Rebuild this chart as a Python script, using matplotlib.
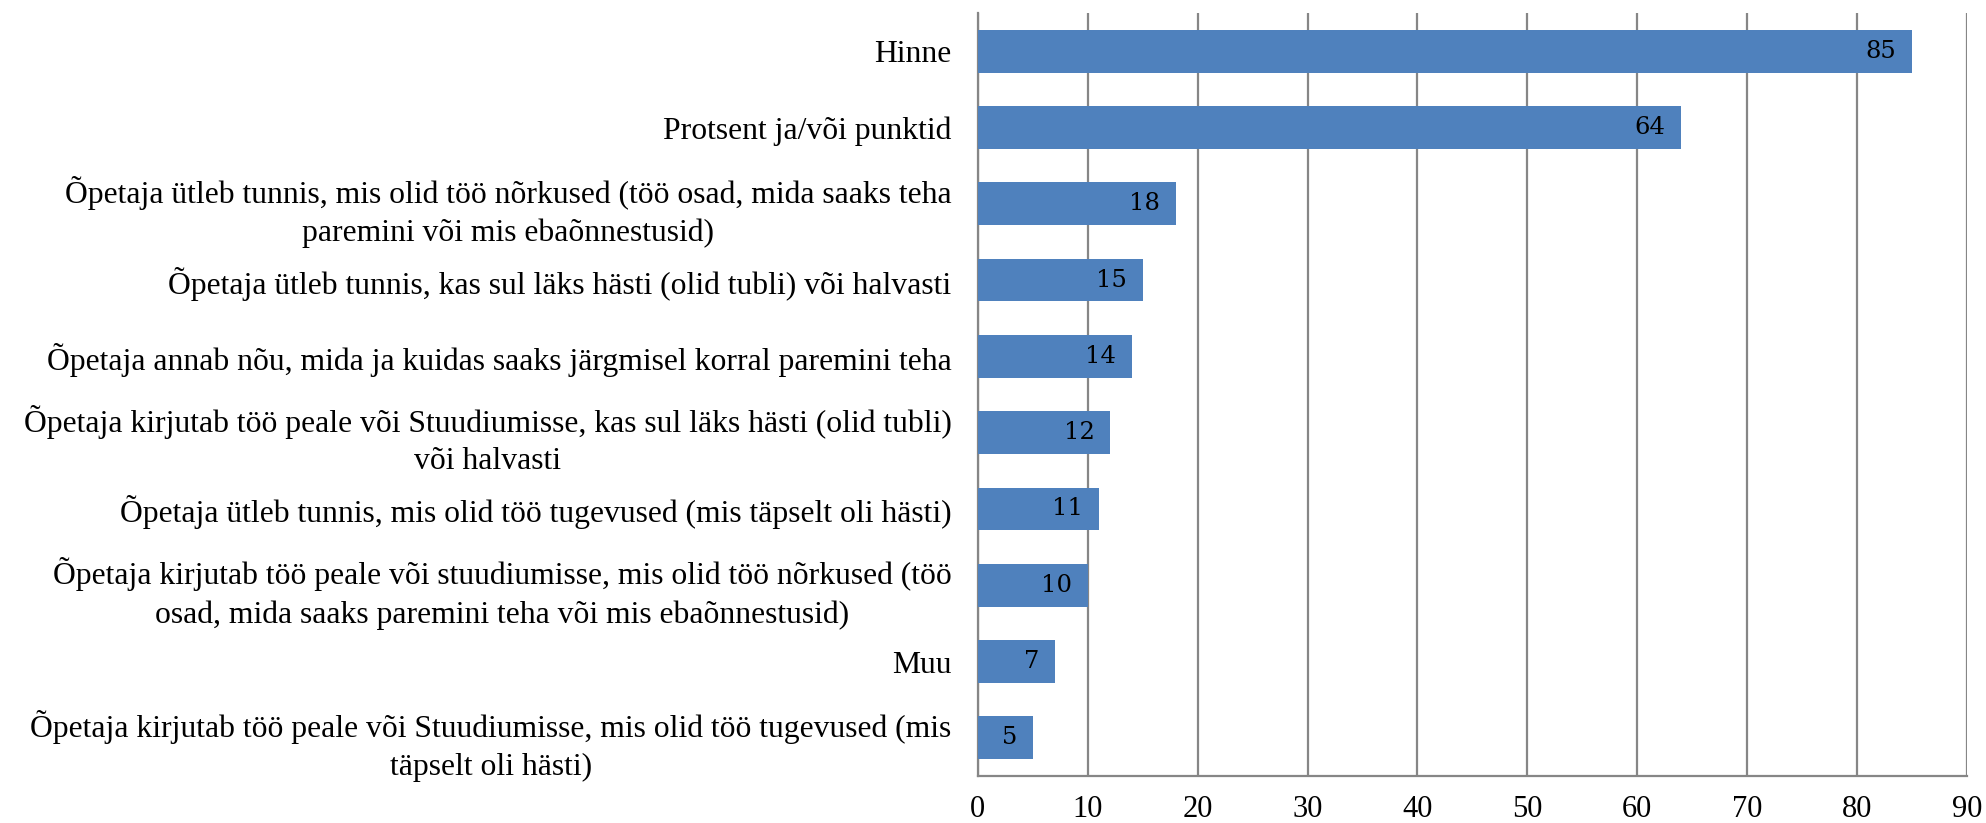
import matplotlib.pyplot as plt
import numpy as np

labels = [
    "Hinne",
    "Protsent ja/või punktid",
    "Õpetaja ütleb tunnis, mis olid töö nõrkused (töö osad, mida saaks teha\nparemini või mis ebaõnnestusid)",
    "Õpetaja ütleb tunnis, kas sul läks hästi (olid tubli) või halvasti",
    "Õpetaja annab nõu, mida ja kuidas saaks järgmisel korral paremini teha",
    "Õpetaja kirjutab töö peale või Stuudiumisse, kas sul läks hästi (olid tubli)\nvõi halvasti",
    "Õpetaja ütleb tunnis, mis olid töö tugevused (mis täpselt oli hästi)",
    "Õpetaja kirjutab töö peale või stuudiumisse, mis olid töö nõrkused (töö\nosad, mida saaks paremini teha või mis ebaõnnestusid)",
    "Muu",
    "Õpetaja kirjutab töö peale või Stuudiumisse, mis olid töö tugevused (mis\ntäpselt oli hästi)",
]
values = [85, 64, 18, 15, 14, 12, 11, 10, 7, 5]
xticks = [0, 10, 20, 30, 40, 50, 60, 70, 80, 90]

fig = plt.figure(figsize=(19.86, 8.23), dpi=100)
ax = fig.add_axes([0.4924, 0.0571, 0.498, 0.9271])

y = np.arange(len(values))
ax.barh(y, values, height=0.56, color="#4F81BD", zorder=3)
ax.set_ylim(len(values) - 0.5, -0.5)
ax.set_xlim(0, 90)

# gridlines
ax.set_xticks(xticks)
ax.xaxis.grid(True, color="#868686", linewidth=1.6, zorder=0)
ax.set_xticklabels([str(t) for t in xticks], fontsize=22, family="Liberation Serif")
ax.tick_params(axis="x", length=0, pad=14)

ax.set_yticks(y)
ax.set_yticklabels(labels, fontsize=22.8, family="Liberation Serif",
                   multialignment="center", linespacing=1.4)
ax.tick_params(axis="y", length=0, pad=19)

for s in ["top", "right"]:
    ax.spines[s].set_visible(False)
for s in ["left", "bottom"]:
    ax.spines[s].set_color("#868686")
    ax.spines[s].set_linewidth(1.6)

for yi, v in zip(y, values):
    ax.text(v - 1.4, yi, str(v), ha="right", va="center", fontsize=17.5,
            family="DejaVu Serif", color="black", zorder=4)

fig.savefig("out.png", dpi=100)
